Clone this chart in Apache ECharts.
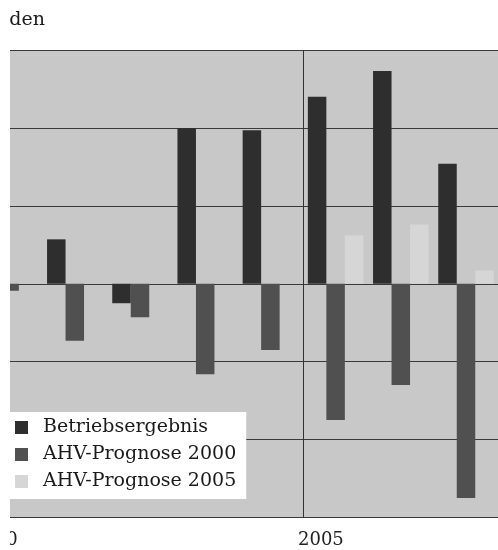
<!DOCTYPE html>
<html>
<head>
<meta charset="utf-8">
<script src="https://cdn.jsdelivr.net/npm/echarts@6/dist/echarts.min.js"></script>
<style>
html,body{margin:0;padding:0;background:#fff;overflow:hidden;width:498px;height:550px;}
#chart{position:absolute;left:-23px;top:0;width:652px;height:550px;}
</style>
</head>
<body>
<div id="chart"></div>
<script>
// Data (y unit = one gridline step)
const years = [2000, 2001, 2002, 2003, 2004, 2005, 2006, 2007];
const betriebsergebnis = [null, 0.57, -0.25, 2.0, 1.97, 2.40, 2.73, 1.54];
const ahvPrognose2000 = [-0.09, -0.73, -0.43, -1.16, -0.85, -1.75, -1.30, -2.75];
const ahvPrognose2005 = [null, null, null, null, null, 0.62, 0.76, 0.17];
const seriesNames = ['Betriebsergebnis', 'AHV-Prognose 2000', 'AHV-Prognose 2005'];
const titleText = 'Milliarden';

function toPoints(vals) {
  const out = [];
  years.forEach((y, i) => { if (vals[i] !== null) out.push([y + 0.5, vals[i]]); });
  return out;
}

const FONT = 'DejaVu Serif';
const SHIFT = 23; // the chart canvas starts 23px left of the page
const chart = echarts.init(document.getElementById('chart'), null, {renderer: 'canvas'});
const barW = 18.5;
chart.setOption({
  animation: false,
  backgroundColor: '#ffffff',
  grid: {
    left: 0, right: 0, top: 50, bottom: 32.5,
    outerBoundsMode: 'none', containLabel: false,
    show: true, backgroundColor: '#c8c8c8', borderWidth: 0
  },
  xAxis: {
    type: 'value', min: 2000, max: 2010, interval: 5,
    axisLine: {show: false},
    axisTick: {show: true, length: 7, lineStyle: {color: '#333', width: 1}},
    splitLine: {show: true, lineStyle: {color: '#333', width: 1}},
    axisLabel: {
      show: true, align: 'left', margin: 14,
      padding: [0, 0, 0, -5],
      fontFamily: FONT, fontSize: 18, color: '#222',
      formatter: v => String(v)
    }
  },
  yAxis: {
    type: 'value', min: -3, max: 3, interval: 1,
    axisLine: {show: false}, axisTick: {show: false}, axisLabel: {show: false},
    splitLine: {show: true, lineStyle: {color: '#3a3a3a', width: 1}}
  },
  legend: {
    orient: 'vertical', left: 10 + SHIFT, top: 412,
    backgroundColor: '#ffffff',
    padding: [6, 10, 8, 5],
    itemWidth: 13, itemHeight: 13, itemGap: 8, icon: 'rect',
    textStyle: {fontFamily: FONT, fontSize: 19, lineHeight: 19, color: '#1a1a1a', padding: [0, 0, 0, 10]},
    data: seriesNames
  },
  series: [
    {name: seriesNames[0], type: 'bar', barWidth: barW, barGap: '0%',
     itemStyle: {color: '#2e2e2e'}, data: toPoints(betriebsergebnis)},
    {name: seriesNames[1], type: 'bar', barWidth: barW, barGap: '0%',
     itemStyle: {color: '#505050'}, data: toPoints(ahvPrognose2000)},
    {name: seriesNames[2], type: 'bar', barWidth: barW, barGap: '0%',
     itemStyle: {color: '#d6d6d6'}, data: toPoints(ahvPrognose2005)}
  ],
  graphic: [
    {type: 'text', x: 45 + SHIFT, y: 20, z: 50,
     style: {text: titleText, align: 'right', verticalAlign: 'middle',
             font: '19px "DejaVu Serif"', fill: '#1a1a1a'}},
    {type: 'rect', z: 100, shape: {x: 0, y: 0, width: 10 + SHIFT, height: 550},
     style: {fill: '#ffffff'}}
  ]
});
</script>
</body>
</html>
